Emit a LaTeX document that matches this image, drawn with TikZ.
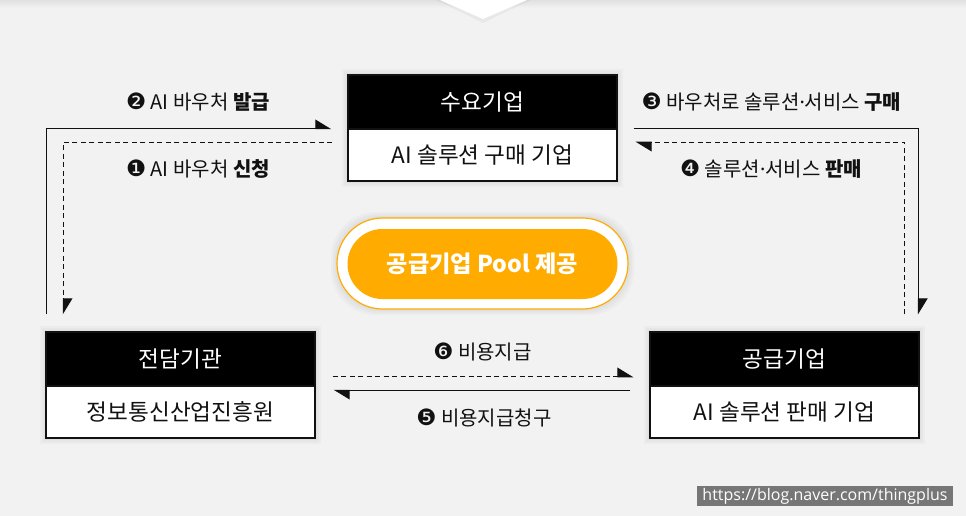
\documentclass[tikz,border=0pt]{standalone}
\usepackage{fontspec}
\setmainfont{Noto Sans CJK KR}
\newfontfamily\dvs{DejaVu Sans}
\newfontfamily\nsans{Noto Sans}
\newfontfamily\urlfont{Open Sans}
\usetikzlibrary{arrows.meta,calc}
\definecolor{bg}{HTML}{F2F2F2}
\definecolor{org}{HTML}{FFAB00}
\definecolor{wmgray}{HTML}{767676}
\definecolor{ink}{HTML}{111111}
\tikzset{
  hdr/.style={fill=black, draw=ink, line width=1.2pt, minimum width=269pt, minimum height=54pt, inner sep=0pt, text=white, font=\fontsize{22.6}{26}\selectfont},
  bdy/.style={fill=white, draw=ink, line width=1.2pt, minimum width=269pt, minimum height=52pt, inner sep=0pt, text=ink, font=\fontsize{22.6}{26}\selectfont},
  lbl/.style={font=\fontsize{20}{23}\selectfont, inner sep=0pt, text=ink},
  tipx/.style={-{Triangle[harpoon,length=15pt,width=18pt]}},
  sol/.style={tipx, line width=1.3pt, draw=ink},
  dsh/.style={tipx, line width=1.3pt, draw=ink, dash pattern=on 5pt off 3.5pt},
  softsh/.style={fill=black, opacity=0.025},
}
\newcommand{\cnum}[1]{{\dvs\fontsize{22.5}{23}\selectfont #1}}
\newcommand{\mdot}{{\nsans ·}}
\begin{document}
\begin{tikzpicture}[x=1pt,y=-1pt]
\useasboundingbox (0,0) rectangle (966,516);
\fill[bg] (0,0) rectangle (966,516);
\shade[top color=black!12, bottom color=bg] (0,0) rectangle (966,8);
% top triangle
\fill[black, opacity=0.04] (436,0) -- (483,23) -- (531,0) -- cycle;
\fill[white] (440,0) -- (483,19) -- (527,0) -- cycle;

% soft shadows
\foreach \e in {2,4,6}{
  \fill[softsh] (348-\e,75-\e) rectangle (617+\e,181+\e);
  \fill[softsh] (46-\e,332-\e) rectangle (315+\e,438+\e);
  \fill[softsh] (650-\e,332-\e) rectangle (919+\e,438+\e);
  \fill[softsh, rounded corners=45pt] (337-\e,218-\e) rectangle (628+\e,309+\e);
}

% boxes
\node[hdr] (sdH) at (482.5,102) {수요기업};
\node[bdy] (sdB) at (482.5,155) {AI 솔루션 구매 기업};
\node[hdr] (jdH) at (180.5,359) {전담기관};
\node[bdy] (jdB) at (180.5,412) {정보통신산업진흥원};
\node[hdr] (spH) at (784.5,359) {공급기업};
\node[bdy] (spB) at (784.5,412) {AI 솔루션 판매 기업};

% pill
\node[draw=org, line width=1.2pt, fill=white, rounded corners=45.5pt, minimum width=291pt, minimum height=91pt, inner sep=0pt] (poolO) at (482.5,263.5) {};
\node[fill=org, rounded corners=35pt, minimum width=270pt, minimum height=70pt, inner sep=0pt, text=white, font=\bfseries\fontsize{23.2}{26}\selectfont] (pool) at (482.5,264) {공급기업 Pool 제공};

% connectors
\draw[sol] ([xshift=1pt,yshift=17pt]jdH.north west) |- ([xshift=-16pt,yshift=1pt]sdH.south west);
\draw[dsh] ([xshift=-15pt,yshift=-14pt]sdB.north west) -| ([xshift=18pt,yshift=17pt]jdH.north west);
\draw[sol] ([xshift=16pt,yshift=1pt]sdH.south east) -| ([xshift=-1pt,yshift=17pt]spH.north east);
\draw[dsh] ([xshift=-15pt,yshift=17pt]spH.north east) |- ([xshift=18pt,yshift=-14pt]sdB.north east);
\draw[dsh] ([xshift=17pt,yshift=10pt]jdH.south east) -- ([xshift=-16pt,yshift=10pt]spH.south west);
\draw[sol] ([xshift=-19pt,yshift=-5pt]spB.north west) -- ([xshift=18pt,yshift=-5pt]jdB.north east);

% labels
\node[lbl] (l2) at (198,102) {\cnum{❷} AI 바우처 \textbf{발급}};
\node[lbl] (l1) at (198,169) {\cnum{❶} AI 바우처 \textbf{신청}};
\node[lbl] (l3) at (771.5,102) {\cnum{❸} 바우처로 솔루션\mdot 서비스 \textbf{구매}};
\node[lbl] (l4) at (771,169) {\cnum{❹} 솔루션\mdot 서비스 \textbf{판매}};
\node[lbl] (l6) at (482.5,352) {\cnum{❻} 비용지급};
\node[lbl] (l5) at (484,418) {\cnum{❺} 비용지급청구};

% watermark
\node[fill=wmgray, text=white, font=\urlfont\fontsize{16}{18}\selectfont, inner xsep=5pt, inner ysep=0pt, minimum height=20pt] (wm) at (825,496) {https://blog.naver.com/thingplus};
\end{tikzpicture}
\end{document}
